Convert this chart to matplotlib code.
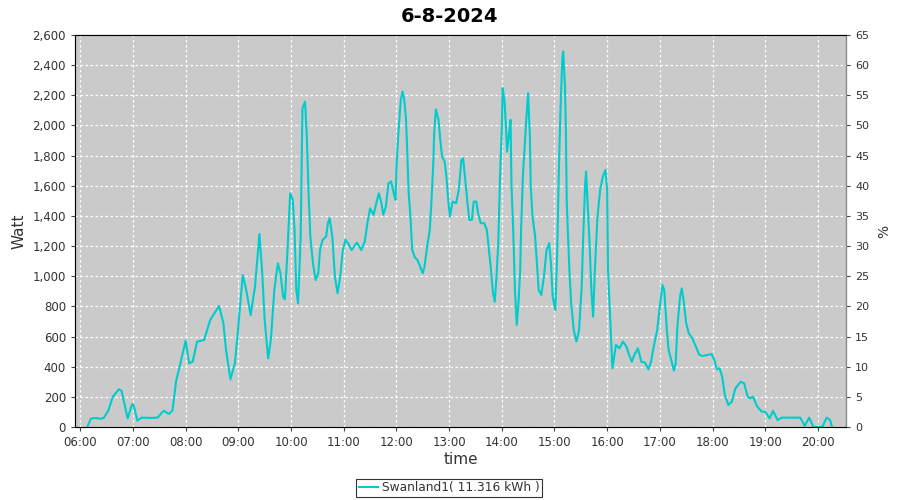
import matplotlib
matplotlib.use("Agg")
import matplotlib.pyplot as plt
from matplotlib.ticker import FuncFormatter, MultipleLocator

times = ["06:08","06:12","06:16","06:24","06:27","06:32","06:37","06:44","06:47","06:54","06:59","07:01","07:05","07:10",
         "07:20","07:28","07:35","07:41","07:45","07:49","07:54","08:00","08:04","08:08","08:13","08:21","08:28","08:38",
         "08:43","08:46","08:51","08:56","08:59","09:05","09:09","09:14","09:19","09:24","09:27","09:30","09:34","09:37",
         "09:41","09:45","09:48","09:51","09:53","09:56","09:59","10:02","10:04","10:06","10:08","10:11","10:13","10:16",
         "10:18","10:20","10:22","10:25","10:28","10:31","10:33","10:36","10:40","10:42","10:44","10:47","10:50","10:53",
         "10:56","10:59","11:02","11:05","11:09","11:15","11:20","11:24","11:27","11:30","11:34","11:38","11:40","11:43",
         "11:45","11:48","11:51","11:54","11:57","11:59","12:00","12:02","12:05","12:07","12:09","12:11","12:12","12:14",
         "12:16","12:18","12:21","12:24","12:27","12:30","12:32","12:35","12:38","12:40","12:42","12:43","12:45","12:48",
         "12:50","12:52","12:55","12:57","12:59","13:01","13:04","13:08","13:11","13:14","13:16","13:18","13:21","13:23",
         "13:26","13:28","13:31","13:33","13:36","13:40","13:43","13:45","13:47","13:50","13:52","13:54","13:56","13:58",
         "14:00","14:01","14:03","14:05","14:06","14:08","14:10","14:11","14:13","14:15","14:17","14:19","14:21","14:22",
         "14:24","14:26","14:28","14:30","14:32","14:33","14:35","14:38","14:40","14:42","14:45","14:48","14:51","14:54",
         "14:56","14:58","15:01","15:03","15:05","15:07","15:09","15:10","15:12","15:13","15:14","15:17","15:19","15:22",
         "15:25","15:28","15:31","15:33","15:35","15:36","15:38","15:40","15:42","15:44","15:46","15:49","15:52","15:55",
         "15:58","16:00","16:01","16:04","16:06","16:08","16:10","16:14","16:18","16:22","16:25","16:28","16:31","16:35",
         "16:39","16:43","16:47","16:50","16:53","16:57","17:00","17:03","17:05","17:08","17:10","17:13","17:16","17:18",
         "17:20","17:23","17:25","17:27","17:30","17:33","17:37","17:41","17:45","17:49","17:54","17:59","18:02","18:05",
         "18:08","18:11","18:14","18:18","18:22","18:26","18:32","18:36","18:40","18:43","18:46","18:51","18:56","19:00",
         "19:05","19:09","19:14","19:19","19:28","19:40","19:45","19:50","19:55","20:05","20:10","20:14","20:16"]

watts = [0,55,60,55,62,110,200,250,240,57,152,140,42,62,
         60,62,108,86,110,300,422,573,422,433,566,577,710,803,
         688,511,316,422,600,1008,909,743,931,1280,1041,710,455,577,
         909,1086,1019,864,847,1174,1550,1506,1307,909,820,1263,2114,2158,
         1926,1550,1263,1086,975,1019,1174,1241,1263,1352,1385,1263,997,887,
         997,1174,1241,1219,1174,1223,1174,1230,1352,1451,1407,1506,1550,1484,
         1407,1462,1617,1628,1550,1506,1705,1926,2170,2225,2170,2037,1882,1550,
         1396,1174,1125,1108,1064,1019,1064,1197,1307,1506,1749,1948,2107,2037,
         1904,1793,1760,1660,1506,1396,1495,1484,1572,1771,1782,1660,1484,1374,
         1374,1495,1495,1418,1352,1352,1307,1197,1086,887,831,997,1219,1660,
         1970,2247,2170,1970,1826,1926,2037,1617,1307,909,677,820,1041,1307,
         1660,1859,2048,2214,1926,1595,1396,1263,1086,909,876,997,1174,1219,
         1086,864,776,1130,1705,2125,2446,2490,2258,1970,1484,1041,820,643,
         566,643,931,1307,1617,1694,1462,1219,909,732,1041,1396,1572,1660,
         1705,1572,1041,643,389,466,544,522,566,533,478,433,478,522,
         433,427,383,433,533,643,798,942,909,643,511,444,374,422,
         666,864,920,842,688,621,588,533,478,471,478,484,444,383,
         389,334,212,146,168,256,300,290,201,190,201,135,102,102,
         57,108,46,62,62,62,7,62,0,0,62,46,0]

series_label = "Swanland1( 11.316 kWh )"
title = "6-8-2024"
hour_ticks = list(range(6, 21))

def to_h(s):
    h, m = s.split(":")
    return int(h) + int(m) / 60.0

x = [to_h(t) for t in times]

fig = plt.figure(figsize=(9, 5), dpi=100)
ax = fig.add_axes([75/900, 1-427/500, (846-75)/900, (427-35)/500])
ax.set_facecolor("#cacaca")
ax.plot(x, watts, color="#00cccc", lw=1.5, label=series_label)
ax.set_xlim(to_h("05:54"), to_h("20:32"))
ax.set_ylim(0, 2600)
ax.yaxis.set_major_locator(MultipleLocator(200))
ax.yaxis.set_major_formatter(FuncFormatter(lambda v, p: f"{int(v):,}"))
ax.set_xticks(hour_ticks)
ax.set_xticklabels([f"{h:02d}:00" for h in hour_ticks])
ax.grid(True, color="white", ls=(0, (2, 2)), lw=0.9)
ax.tick_params(labelsize=8.5, colors="#444444", length=3, labelcolor="#333333")
for s in ["left", "bottom"]:
    ax.spines[s].set_color("#888888")
for s in ["top", "right"]:
    ax.spines[s].set_color("#222222")
ax.set_ylabel("Watt", fontsize=11, color="#333333", labelpad=4)
ax.set_xlabel("time", fontsize=11, color="#333333", labelpad=2)

ax2 = ax.twinx()
ax2.set_ylim(0, 65)
ax2.yaxis.set_major_locator(MultipleLocator(5))
ax2.tick_params(labelsize=8, colors="#444444", length=3, labelcolor="#333333")
ax2.set_ylabel("%", fontsize=10, color="#333333", labelpad=6)
ax2.spines["right"].set_color("#888888")

fig.suptitle(title, fontsize=14, fontweight="bold", y=0.985)
leg = fig.legend(loc="center", bbox_to_anchor=(449/900, 1-488/500), fontsize=8.8,
                 frameon=True, fancybox=False, edgecolor="black", handlelength=1.6,
                 borderpad=0.2, handletextpad=0.3, borderaxespad=0)
leg.get_frame().set_linewidth(0.8)
for t in leg.get_texts():
    t.set_color("#333333")
fig.savefig("out.png", dpi=100, facecolor="white")
